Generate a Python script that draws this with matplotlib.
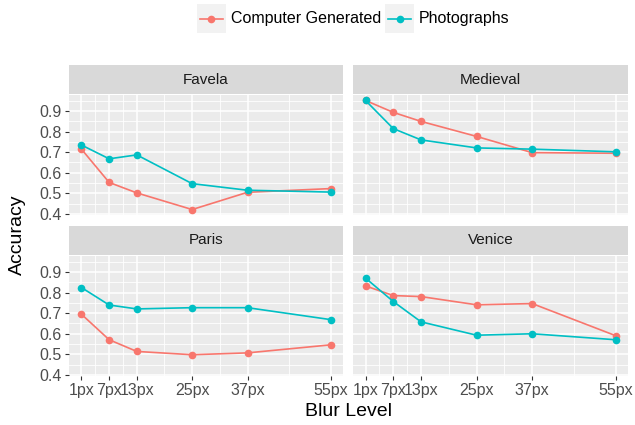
import matplotlib
matplotlib.use("Agg")
import matplotlib.pyplot as plt
from matplotlib.lines import Line2D
from matplotlib.patches import Rectangle

plt.rcParams['font.family'] = ['Liberation Sans', 'DejaVu Sans']

# Data
blur = [1, 7, 13, 25, 37, 55]
blur_labels = ['1px', '7px', '13px', '25px', '37px', '55px']
panels = ['Favela', 'Medieval', 'Paris', 'Venice']
series = ['Computer Generated', 'Photographs']

favela_cg = [0.715, 0.553, 0.502, 0.421, 0.505, 0.523]
favela_ph = [0.735, 0.668, 0.687, 0.547, 0.515, 0.506]
medieval_cg = [0.952, 0.894, 0.850, 0.777, 0.698, 0.695]
medieval_ph = [0.952, 0.815, 0.760, 0.721, 0.715, 0.702]
paris_cg = [0.695, 0.571, 0.514, 0.498, 0.507, 0.546]
paris_ph = [0.825, 0.740, 0.721, 0.727, 0.727, 0.669]
venice_cg = [0.833, 0.786, 0.781, 0.741, 0.747, 0.591]
venice_ph = [0.871, 0.757, 0.658, 0.593, 0.600, 0.571]

data = {
    'Favela': (favela_cg, favela_ph),
    'Medieval': (medieval_cg, medieval_ph),
    'Paris': (paris_cg, paris_ph),
    'Venice': (venice_cg, venice_ph),
}
colors = ['#F8766D', '#00BFC4']
yticks = [0.4, 0.5, 0.6, 0.7, 0.8, 0.9]

W, H = 635, 425
fig = plt.figure(figsize=(W / 100, H / 100), dpi=100)

def px_axes(x0, y0, x1, y1):
    return fig.add_axes([x0 / W, 1 - y1 / H, (x1 - x0) / W, (y1 - y0) / H])

cols = [(69, 343), (353, 628)]
rows = [(95, 215), (256, 376)]
strip_h = 30

allv = [v for p in data.values() for s in p for v in s]
ylo, yhi = min(allv), max(allv)
pad = (yhi - ylo) * 0.05
xpad = (blur[-1] - blur[0]) * 0.05

minor_x = [(blur[i] + blur[i + 1]) / 2 for i in range(len(blur) - 1)]
minor_y = [0.45, 0.55, 0.65, 0.75, 0.85, 0.95]

for i, name in enumerate(panels):
    r, c = divmod(i, 2)
    x0, x1 = cols[c]
    y0, y1 = rows[r]
    ax = px_axes(x0, y0, x1, y1)
    ax.set_facecolor('#EBEBEB')
    for s in ax.spines.values():
        s.set_visible(False)
    ax.set_xlim(blur[0] - xpad, blur[-1] + xpad)
    ax.set_ylim(ylo - pad, yhi + pad)
    for mx in minor_x:
        ax.axvline(mx, color='white', lw=0.6, zorder=0)
    for my in minor_y:
        ax.axhline(my, color='white', lw=0.6, zorder=0)
    for bx in blur:
        ax.axvline(bx, color='white', lw=1.1, zorder=0)
    for by in yticks:
        ax.axhline(by, color='white', lw=1.1, zorder=0)
    cg, ph = data[name]
    for vals, col in zip((cg, ph), colors):
        ax.plot(blur, vals, color=col, lw=1.2, marker='o', ms=5.5,
                markeredgewidth=0, zorder=3)
    ax.set_xticks(blur)
    ax.set_yticks(yticks)
    ax.tick_params(length=3, width=0.8, color='#333333', labelcolor='#4D4D4D',
                   labelsize=11.5, pad=2)
    if r == 1:
        ax.set_xticklabels(blur_labels)
    else:
        ax.tick_params(axis='x', length=0, labelbottom=False)
    if c == 0:
        ax.set_yticklabels(['%.1f' % t for t in yticks])
    else:
        ax.tick_params(axis='y', length=0, labelleft=False)

    sa = px_axes(x0, y0 - strip_h, x1, y0 - 1)
    sa.set_facecolor('#D9D9D9')
    sa.set_xticks([])
    sa.set_yticks([])
    for s in sa.spines.values():
        s.set_visible(False)
    sa.text(0.5, 0.5, name, ha='center', va='center', fontsize=11,
            color='#1A1A1A', transform=sa.transAxes)

fig.text(348 / W, 1 - 411 / H, 'Blur Level', ha='center', va='center',
         fontsize=14, color='black')
fig.text(17 / W, 1 - 235 / H, 'Accuracy', ha='center', va='center',
         fontsize=14, color='black', rotation=90)

# legend drawn by hand: grey key boxes, line + point, label
key_x = [197, 385]
for kx, col, lab in zip(key_x, colors, series):
    fig.patches.append(Rectangle((kx / W, 1 - 33 / H), 29 / W, 29 / H,
                                 transform=fig.transFigure, facecolor='#F2F2F2',
                                 edgecolor='none'))
    fig.lines.append(Line2D([(kx + 3) / W, (kx + 26) / W], [1 - 18.5 / H] * 2,
                            transform=fig.transFigure, color=col, lw=1.2))
    fig.lines.append(Line2D([(kx + 14.5) / W], [1 - 18.5 / H],
                            transform=fig.transFigure, color=col, marker='o',
                            ms=5.5, markeredgewidth=0))
    fig.text((kx + 34) / W, 1 - 18.5 / H, lab, ha='left', va='center',
             fontsize=11.5, color='black')

fig.savefig('out.png', dpi=100)
